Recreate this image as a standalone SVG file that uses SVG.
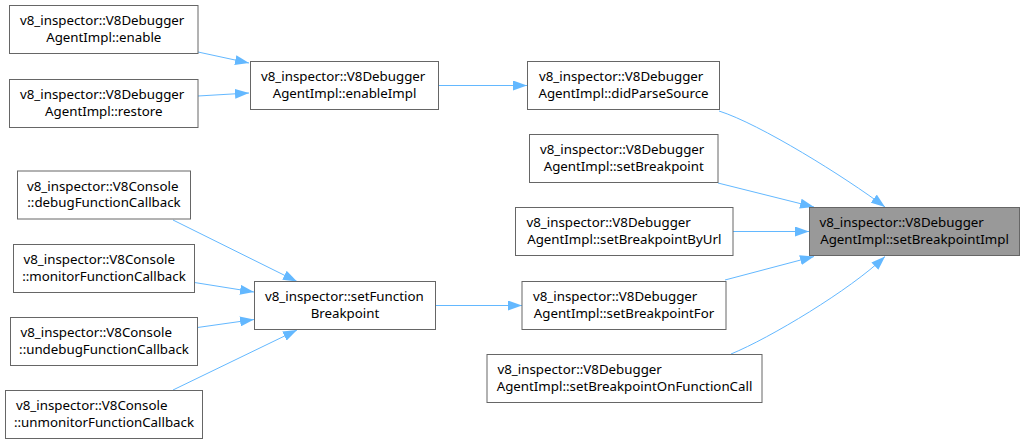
<svg xmlns="http://www.w3.org/2000/svg" width="1025" height="445" viewBox="0 0 1025 445">
<style>
.box{fill:#ffffff;stroke:#666666;stroke-width:1}
.hl{fill:#999999;stroke:#666666;stroke-width:1}
text{font-family:"Noto Sans","DejaVu Sans",sans-serif;font-size:13.3px;fill:#000000}
.l{text-anchor:start}
.c{text-anchor:middle}
.e{fill:none;stroke:#63b8ff;stroke-width:1;marker-end:url(#arr)}
</style>
<defs>
<marker id="arr" viewBox="0 0 14 10" refX="14" refY="5" markerWidth="14" markerHeight="10" markerUnits="userSpaceOnUse" orient="auto">
<path d="M0,0 L14,5 L0,10 Z" fill="#63b8ff"/>
</marker>
</defs>
<rect width="1025" height="445" fill="#ffffff"/>
<g id="connectors">
<path class="e" d="M198,52 L249,63"/>
<path class="e" d="M198,96 L249,93"/>
<path class="e" d="M438.5,85.5 L527,85.5"/>
<path class="e" d="M719,111 C760,124 845,177 885,207"/>
<path class="e" d="M718,183 L814,207"/>
<path class="e" d="M733,231.5 L809,231.5"/>
<path class="e" d="M725,280 L814,256.5"/>
<path class="e" d="M731,354 C770,338 850,290 885,256.5"/>
<path class="e" d="M435.5,305.5 L522,305.5"/>
<path class="e" d="M173,220 L297,281.5"/>
<path class="e" d="M194.5,282.5 L254,292"/>
<path class="e" d="M197.5,327.5 L254,319.5"/>
<path class="e" d="M173,390 L297,330"/>
</g>
<g id="n1"><rect class="box" x="9.5" y="5.5" width="188.5" height="48"/><text class="l" x="20" y="25">v8_inspector::V8Debugger</text><text class="c" x="103.75" y="41.5">AgentImpl::enable</text></g>
<g id="n2"><rect class="box" x="9.5" y="79.5" width="188.5" height="48"/><text class="l" x="20" y="99">v8_inspector::V8Debugger</text><text class="c" x="103.75" y="115.5">AgentImpl::restore</text></g>
<g id="n3"><rect class="box" x="250.5" y="61.5" width="188" height="48"/><text class="l" x="261" y="81">v8_inspector::V8Debugger</text><text class="c" x="344.5" y="97.5">AgentImpl::enableImpl</text></g>
<g id="n4"><rect class="box" x="527.5" y="61.5" width="192" height="48"/><text class="l" x="539" y="81">v8_inspector::V8Debugger</text><text class="c" x="623.5" y="97.5">AgentImpl::didParseSource</text></g>
<g id="n5"><rect class="box" x="529.5" y="134.5" width="188.5" height="48"/><text class="l" x="540" y="154">v8_inspector::V8Debugger</text><text class="c" x="623.75" y="170.5">AgentImpl::setBreakpoint</text></g>
<g id="n6"><rect class="box" x="515.5" y="207.5" width="217.5" height="48"/><text class="l" x="526.5" y="227">v8_inspector::V8Debugger</text><text class="c" x="624.25" y="243.5">AgentImpl::setBreakpointByUrl</text></g>
<g id="n7"><rect class="hl" x="809.5" y="207.5" width="210" height="48"/><text class="l" x="819.5" y="227">v8_inspector::V8Debugger</text><text class="c" x="914.5" y="243.5">AgentImpl::setBreakpointImpl</text></g>
<g id="n8"><rect class="box" x="522" y="281.5" width="204" height="48"/><text class="l" x="533" y="301">v8_inspector::V8Debugger</text><text class="c" x="624" y="317.5">AgentImpl::setBreakpointFor</text></g>
<g id="n9"><rect class="box" x="487" y="354.5" width="275" height="48"/><text class="l" x="497.5" y="374">v8_inspector::V8Debugger</text><text class="c" x="624.5" y="390.5">AgentImpl::setBreakpointOnFunctionCall</text></g>
<g id="n10"><rect class="box" x="254.5" y="281.5" width="181" height="48"/><text class="l" x="265" y="301">v8_inspector::setFunction</text><text class="c" x="345" y="317.5">Breakpoint</text></g>
<g id="n11"><rect class="box" x="17.5" y="171" width="173" height="48"/><text class="l" x="27" y="190.5">v8_inspector::V8Console</text><text class="c" x="104" y="207">::debugFunctionCallback</text></g>
<g id="n12"><rect class="box" x="13.5" y="244.5" width="181" height="48"/><text class="l" x="23.5" y="264">v8_inspector::V8Console</text><text class="c" x="104" y="280.5">::monitorFunctionCallback</text></g>
<g id="n13"><rect class="box" x="10.5" y="317.5" width="187" height="48"/><text class="l" x="20.5" y="337">v8_inspector::V8Console</text><text class="c" x="104" y="353.5">::undebugFunctionCallback</text></g>
<g id="n14"><rect class="box" x="5.5" y="390.5" width="197" height="48"/><text class="l" x="16" y="410">v8_inspector::V8Console</text><text class="c" x="104" y="426.5">::unmonitorFunctionCallback</text></g>
</svg>
